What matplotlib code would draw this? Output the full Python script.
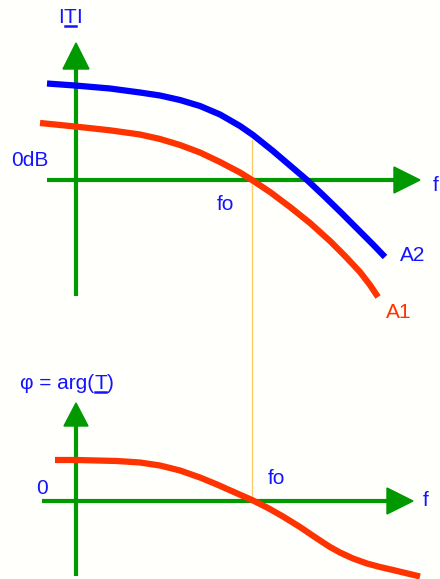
import matplotlib.pyplot as plt
from matplotlib.patches import Polygon

plt.rcParams['font.family'] = ['Liberation Sans', 'DejaVu Sans']

# curves sampled in canvas pixels (x, y downward)
blue_x = [47, 75, 110, 140, 160, 180, 200, 220, 240, 253, 273, 290, 307, 323, 340, 357, 373, 385]
blue_y = [83.5, 85.5, 88.5, 92.5, 95.5, 100, 106, 114.5, 126, 135, 151, 165.5, 180, 195, 211.5, 228.5, 244.5, 257]

red1_x = [40, 75, 110, 140, 160, 180, 200, 220, 240, 252, 270, 290, 310, 330, 345, 360, 370, 378]
red1_y = [123, 126.5, 130.3, 134.5, 139, 145, 152.5, 162, 172.5, 180, 192, 207, 223, 241, 256, 272, 285, 297]

red2_x = [55, 77, 117, 140, 160, 180, 200, 217, 235, 252, 268, 283, 300, 317, 330, 340, 353, 367, 380, 393, 420]
red2_y = [460, 460, 461, 462.5, 465.5, 470.5, 477.5, 484.5, 492.5, 500, 508, 516.5, 527, 538.5, 547, 552.5, 558.5, 563.5, 567, 570, 576.5]

GREEN = '#009900'
BLUE = '#1414ff'
RED = '#ff3300'
ORANGE = '#ffcc66'

fig = plt.figure(figsize=(4.4, 5.79), dpi=100)
fig.patch.set_facecolor('#fffffb')
ax = fig.add_axes([0, 0, 1, 1])
ax.set_xlim(0, 440)
ax.set_ylim(579, 0)
ax.axis('off')


def axis_arrow(x0, y0, x1, y1, head=26, half=13):
    # shaft plus filled triangular head pointing from (x0,y0) to (x1,y1)
    dx, dy = x1 - x0, y1 - y0
    n = (dx ** 2 + dy ** 2) ** 0.5
    ux, uy = dx / n, dy / n
    bx, by = x1 - ux * head, y1 - uy * head
    ax.plot([x0, bx], [y0, by], color=GREEN, lw=3.0, solid_capstyle='butt', zorder=2)
    tri = Polygon([(x1, y1), (bx - uy * half, by + ux * half), (bx + uy * half, by - ux * half)],
                  closed=True, color=GREEN, zorder=2)
    ax.add_patch(tri)


def underlined(x, y, parts, color, size):
    # draw text pieces side by side; pieces flagged True get an underline
    fig.canvas.draw()
    r = fig.canvas.get_renderer()
    inv = ax.transData.inverted()
    cx = x
    for s, ul in parts:
        t = ax.text(cx, y, s, color=color, fontsize=size, va='baseline', ha='left')
        bb = t.get_window_extent(renderer=r)
        (x0, _), (x1, _) = inv.transform([(bb.x0, bb.y0), (bb.x1, bb.y1)])
        if ul:
            ax.plot([x0 + 1, x1 - 1], [y + 3, y + 3], color=color, lw=1.8)
        cx = x1


# top graph: gain
ax.plot([252, 252], [140, 501], color=ORANGE, lw=1.0, zorder=1)
axis_arrow(76, 296, 76, 43)
axis_arrow(47, 180, 420, 180)
ax.plot(blue_x, blue_y, color='#0000ff', lw=4.5, solid_capstyle='butt',
        solid_joinstyle='round', zorder=3)
ax.plot(red1_x, red1_y, color=RED, lw=4.5, solid_capstyle='butt',
        solid_joinstyle='round', zorder=3)

underlined(58, 23, [('I', False), ('T', True), ('I', False)], BLUE, 15)
ax.text(11, 166, '0dB', color=BLUE, fontsize=15, va='baseline')
ax.text(217, 210, 'fo', color=BLUE, fontsize=15, va='baseline')
ax.text(433, 191, 'f', color=BLUE, fontsize=15, va='baseline')
ax.text(400, 261, 'A2', color=BLUE, fontsize=15, va='baseline')
ax.text(386, 318, 'A1', color=RED, fontsize=15, va='baseline')

# bottom graph: phase
axis_arrow(76, 576, 76, 403, head=23, half=12)
axis_arrow(42, 501, 413, 501)
ax.plot(red2_x, red2_y, color=RED, lw=4.5, solid_capstyle='butt',
        solid_joinstyle='round', zorder=3)

underlined(20, 389, [('φ = arg(', False), ('T', True), (')', False)], BLUE, 15)
ax.text(36, 494, '0', color=BLUE, fontsize=15, va='baseline')
ax.text(268, 484, 'fo', color=BLUE, fontsize=15, va='baseline')
ax.text(423, 506, 'f', color=BLUE, fontsize=15, va='baseline')

fig.savefig('out.png', dpi=100, facecolor=fig.get_facecolor())
